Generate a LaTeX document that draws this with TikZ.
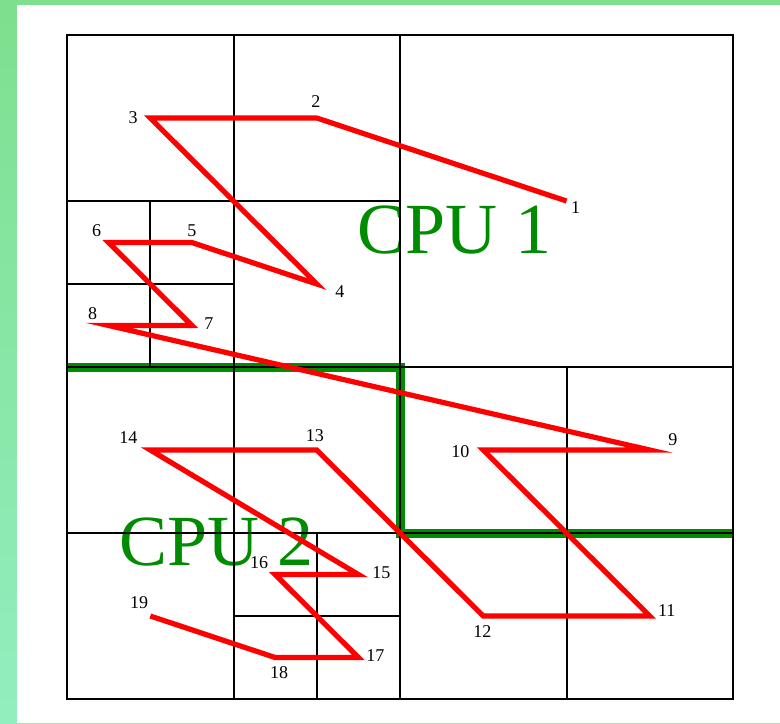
\documentclass[tikz,border=0pt]{standalone}
\usepackage{fontspec}
\setmainfont{Liberation Serif}
\definecolor{cpugreen}{HTML}{008C00}
\definecolor{frametop}{HTML}{7EDF8E}
\definecolor{framebot}{HTML}{93EEBF}

\begin{document}
\begin{tikzpicture}[
    x=41.625pt, y=-41.5pt,
    cell/.style   ={draw=black, line width=1pt},
    part/.style   ={draw=cpugreen, line width=4.5pt},
    zcurve/.style ={draw=red, line width=2.6pt},
    num/.style    ={font=\fontsize{9}{9}\selectfont, inner sep=0pt},
    cpu/.style    ={text=cpugreen, font=\fontsize{36}{36}\selectfont, inner sep=0pt, anchor=base},
  ]
  % --- frame ---
  \shade[top color=frametop, bottom color=framebot] (-0.8048,-0.4217) rectangle (8.5646,8.2892);
  \fill[white] (-0.6006,-0.3614) rectangle (8.5646,8.2892);
  \useasboundingbox (-0.8048,-0.4217) rectangle (8.5646,8.2892);

  % --- cpu names ---
  \node[cpu] (cpuA) at (4.66,2.627) {CPU 1};
  \node[cpu] (cpuB) at (1.796,6.386) {CPU 2};

  % --- partition ---
  \draw[part] (0,4) -- (4,4) -- (4,6) -- (8,6);

  % --- quadtree cells ---
  \draw[cell] (0,0) rectangle (8,8);
  \draw[cell] (4,0) -- (4,8) (0,4) -- (8,4);
  \draw[cell] (2,0) -- (2,4) (0,2) -- (4,2) (1,2) -- (1,4) (0,3) -- (2,3);
  \draw[cell] (2,4) -- (2,8) (0,6) -- (4,6) (3,6) -- (3,8) (2,7) -- (4,7);
  \draw[cell] (6,4) -- (6,8) (4,6) -- (8,6);

  % --- cell centres ---
  \coordinate (p1)  at (6,2);
  \coordinate (p2)  at (3,1);
  \coordinate (p3)  at (1,1);
  \coordinate (p4)  at (3,3);
  \coordinate (p5)  at (1.5,2.5);
  \coordinate (p6)  at (0.5,2.5);
  \coordinate (p7)  at (1.5,3.5);
  \coordinate (p8)  at (0.5,3.5);
  \coordinate (p9)  at (7,5);
  \coordinate (p10) at (5,5);
  \coordinate (p11) at (7,7);
  \coordinate (p12) at (5,7);
  \coordinate (p13) at (3,5);
  \coordinate (p14) at (1,5);
  \coordinate (p15) at (3.5,6.5);
  \coordinate (p16) at (2.5,6.5);
  \coordinate (p17) at (3.5,7.5);
  \coordinate (p18) at (2.5,7.5);
  \coordinate (p19) at (1,7);

  % --- z-order curve ---
  \draw[zcurve] (p1) -- (p2) -- (p3) -- (p4) -- (p5) -- (p6) -- (p7) -- (p8)
    -- (p9) -- (p10) -- (p11) -- (p12) -- (p13) -- (p14) -- (p15) -- (p16)
    -- (p17) -- (p18) -- (p19);

  % --- numbers ---
  \node[num, xshift=4.5pt,  yshift=-3.5pt] (n1)  at (p1)  {1};
  \node[num, xshift=-0.5pt, yshift=8pt]    (n2)  at (p2)  {2};
  \node[num, xshift=-8.5pt, yshift=0pt]    (n3)  at (p3)  {3};
  \node[num, xshift=11.5pt, yshift=-4pt]   (n4)  at (p4)  {4};
  \node[num, xshift=0pt,    yshift=6pt]    (n5)  at (p5)  {5};
  \node[num, xshift=-6pt,   yshift=6pt]    (n6)  at (p6)  {6};
  \node[num, xshift=8.5pt,  yshift=1pt]    (n7)  at (p7)  {7};
  \node[num, xshift=-8pt,   yshift=6pt]    (n8)  at (p8)  {8};
  \node[num, xshift=11.5pt, yshift=5pt]    (n9)  at (p9)  {9};
  \node[num, xshift=-11.5pt,yshift=-1pt]   (n10) at (p10) {10};
  \node[num, xshift=8.5pt,  yshift=2.5pt]  (n11) at (p11) {11};
  \node[num, xshift=-0.5pt, yshift=-8pt]   (n12) at (p12) {12};
  \node[num, xshift=-1pt,   yshift=7pt]    (n13) at (p13) {13};
  \node[num, xshift=-11pt,  yshift=6pt]    (n14) at (p14) {14};
  \node[num, xshift=11.5pt, yshift=1pt]    (n15) at (p15) {15};
  \node[num, xshift=-8pt,   yshift=6pt]    (n16) at (p16) {16};
  \node[num, xshift=8.5pt,  yshift=1pt]    (n17) at (p17) {17};
  \node[num, xshift=2pt,    yshift=-7.5pt] (n18) at (p18) {18};
  \node[num, xshift=-5.5pt, yshift=6.5pt]  (n19) at (p19) {19};
\end{tikzpicture}
\end{document}
